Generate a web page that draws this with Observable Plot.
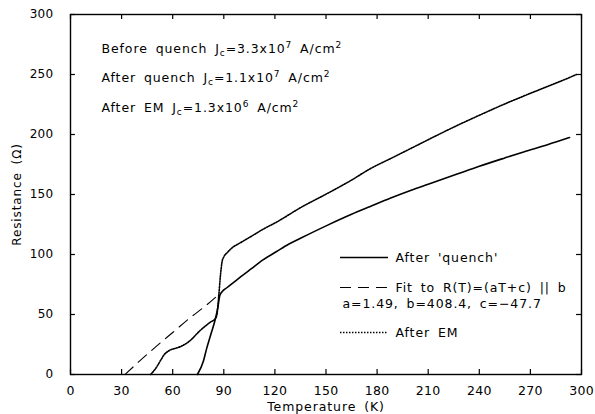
<!DOCTYPE html>
<html><head><meta charset="utf-8">
<script src="https://cdn.jsdelivr.net/npm/d3@7"></script>
<script src="https://cdn.jsdelivr.net/npm/@observablehq/plot@0.6"></script>
<style>
body{margin:0;background:#fff;}
#chart svg text{font-family:"DejaVu Sans",sans-serif;letter-spacing:0.9px;word-spacing:3px;}
#chart svg g[aria-label="x-axis tick label"] text,#chart svg g[aria-label="y-axis tick label"] text{letter-spacing:0.3px;}
</style>
</head><body><div id="chart"></div>
<script>
// After 'quench' (solid)
const quenchT = [74.5,78,80,82.5,85,86.5,87.7,89,92,96,100,106,113,121,128,135,151,165,176,188,200,210,227,240,255,266,280,293];
const quenchR = [0,11,22,34,46,56,66,69,72.5,77,81.5,88,95.5,102.5,108.5,113.5,124.5,133.5,140,147,153.5,158.5,167,173.5,180.5,185.5,191.5,197.5];
// After EM (dotted)
const emT = [47,50,53,55,58,62,65,70,76,82,85,86,87,88,89,90,92,94,100,106,113,121,135,151,165,176,188,200,214,227,240,255,266,280,293,297];
const emR = [0,5,12,16.5,20,22,23.5,28,36.5,43.5,46.5,50,65,82,94,98,101.5,104.5,110,115,121,127,139,151,162,171.5,180,188.5,198.5,207.5,216,225.5,232,240,247.5,250];
// Fit to R(T)=(aT+c) || b (dashed)
const fitT = [32,40,50,60,70,80,88];
const fitR = [0,10.5,23,35,47,58,68];

const xTicks = [0,30,60,90,120,150,180,210,240,270,300];
const yTicks = [0,50,100,150,200,250,300];
const notes = ["Before quench J_c=3.3x10^7 A/cm^2", "After quench J_c=1.1x10^7 A/cm^2", "After EM J_c=1.3x10^6 A/cm^2"];
const legendLabels = ["After 'quench'", "Fit to R(T)=(aT+c) || b", "a=1.49, b=408.4, c=\u221247.7", "After EM"];

const toRows = (T, R) => T.map((t, i) => ({T: t, R: R[i]}));
const quench = toRows(quenchT, quenchR);
const em = toRows(emT, emR);
const fit = toRows(fitT, fitR);

const noteMarks = notes.map((s, i) => Plot.text([s], {frameAnchor: "top-left", dx: 31, dy: 34 + 29.5 * i, textAnchor: "start", lineAnchor: "middle", fontSize: 12.5, fill: "#000"}));
const legendDx = [325, 325, 272, 325];
const legendDy = [243, 273, 289, 318];
const legendTextMarks = legendLabels.map((s, i) => Plot.text([s], {frameAnchor: "top-left", dx: legendDx[i], dy: legendDy[i], textAnchor: "start", lineAnchor: "middle", fontSize: 12.5, fill: "#000"}));
const one = [0];
const legendLines = [
  Plot.ruleY(one, {y: 97.5, x1: 158.5, x2: 186.7, stroke: "#000", strokeWidth: 1.5}),
  Plot.ruleY(one, {y: 72.5, x1: 158.5, x2: 186.7, stroke: "#000", strokeWidth: 1.2, strokeDasharray: "11,7"}),
  Plot.ruleY(one, {y: 35, x1: 158.5, x2: 186.7, stroke: "#000", strokeWidth: 1.5, strokeDasharray: "1.5,1.5"})
];
// inward ticks on all four sides (5 px long)
const tickMarks = [
  Plot.ruleX(xTicks, {x: d => d, y1: 0, y2: 4.2, stroke: "#000", strokeWidth: 1.2}),
  Plot.ruleX(xTicks, {x: d => d, y1: 295.8, y2: 300, stroke: "#000", strokeWidth: 1.2}),
  Plot.ruleY(yTicks, {y: d => d, x1: 0, x2: 2.9, stroke: "#000", strokeWidth: 1.2}),
  Plot.ruleY(yTicks, {y: d => d, x1: 297.1, x2: 300, stroke: "#000", strokeWidth: 1.2})
];

const chart = Plot.plot({
  width: 595, height: 414,
  marginLeft: 70, marginRight: 14, marginTop: 14, marginBottom: 40,
  style: {fontFamily: "DejaVu Sans", fontSize: "11.5px", color: "#000", background: "#fff"},
  x: {domain: [0, 300]},
  y: {domain: [0, 300]},
  marks: [
    Plot.frame({stroke: "#000", strokeWidth: 1.4}),
    Plot.axisX({ticks: xTicks, tickSize: 0, tickPadding: 12, tickFormat: d => String(d), label: "Temperature (K)", labelAnchor: "center", labelOffset: 36.5, labelArrow: false, fontSize: 12.5}),
    Plot.axisY({ticks: yTicks, tickSize: 0, tickPadding: 17, tickFormat: d => String(d), label: "Resistance (\u03a9)", labelAnchor: "center", labelOffset: 58, labelArrow: false, fontSize: 12}),
    ...tickMarks,
    Plot.line(fit, {x: "T", y: "R", stroke: "#000", strokeWidth: 1.1, strokeDasharray: "11,7", curve: "monotone-x"}),
    Plot.line(quench, {x: "T", y: "R", stroke: "#000", strokeWidth: 1.6, curve: "monotone-x"}),
    Plot.line(em, {x: "T", y: "R", stroke: "#000", strokeWidth: 1.6, strokeDasharray: "1.4,1.3", curve: "monotone-x"}),
    ...noteMarks,
    ...legendTextMarks,
    ...legendLines
  ]
});
document.getElementById("chart").appendChild(chart);

// sub/superscripts: "_x" subscript, "^x" superscript
const NS = "http://www.w3.org/2000/svg";
chart.querySelectorAll("text").forEach(t => {
  const s = t.textContent;
  if (!/[_^]/.test(s) || t.children.length) return;
  t.textContent = "";
  let cur = 0, last = 0;
  const add = (str, lvl) => {
    if (!str) return;
    const off = lvl === 1 ? -5 : lvl === -1 ? 3 : 0;
    const ts = document.createElementNS(NS, "tspan");
    ts.textContent = str;
    if (off - cur) ts.setAttribute("dy", (off - cur) + "px");
    if (lvl) ts.setAttribute("font-size", "72%");
    cur = off;
    t.appendChild(ts);
  };
  for (const m of s.matchAll(/([_^])(.)/g)) {
    add(s.slice(last, m.index), 0);
    add(m[2], m[1] === "^" ? 1 : -1);
    last = m.index + 2;
  }
  add(s.slice(last), 0);
});
</script>
</body></html>
